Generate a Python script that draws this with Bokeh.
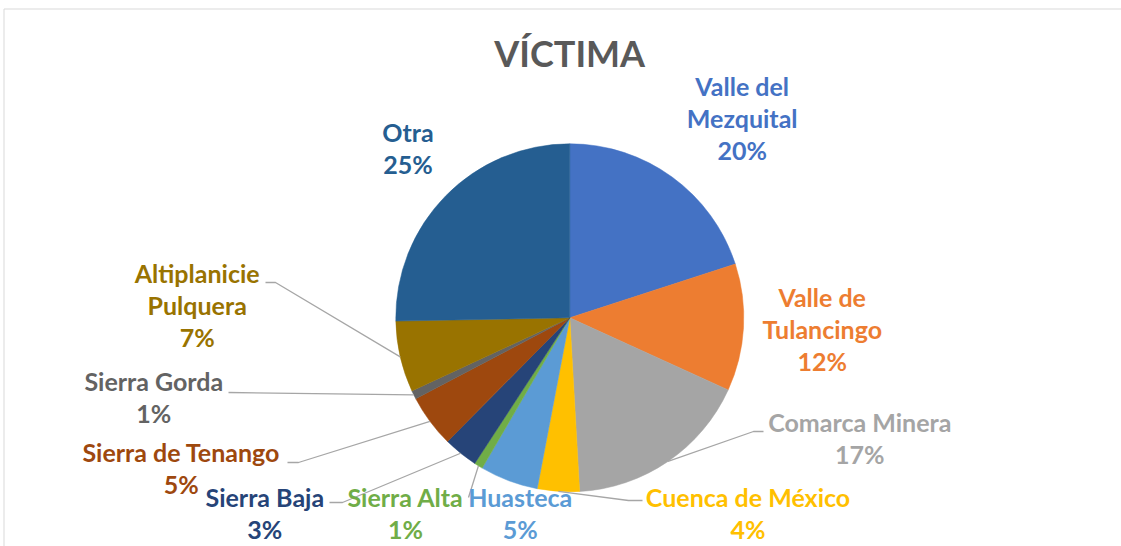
import math
from bokeh.plotting import figure
from bokeh.models import Range1d, ColumnDataSource
from bokeh.core.properties import value
from bokeh.embed import file_html
from bokeh.resources import INLINE

# ---------------- data ----------------
regions = ["Valle del Mezquital", "Valle de Tulancingo", "Comarca Minera",
           "Cuenca de México", "Huasteca", "Sierra Alta", "Sierra Baja",
           "Sierra de Tenango", "Sierra Gorda", "Altiplanicie Pulquera", "Otra"]
values = [20.0, 11.8, 17.3, 3.9, 5.4, 0.8, 3.2, 4.9, 0.8, 6.6, 25.3]
colors = ["#4472C4", "#ED7D31", "#A5A5A5", "#FFC000", "#5B9BD5", "#70AD47",
          "#264478", "#9E480E", "#636363", "#997300", "#255E91"]
title_text = "VÍCTIMA"

# ---------------- layout (screen pixels) ----------------
W, H = 1121, 546
CX, CY, R = 569.3, 317.3, 174.0
FONT = "Lato"
LINE_PITCH = 32
LABEL_SIZE = 25
TITLE_SIZE = 36
BASE_FIX = 0.40   # renderer places alphabetic baseline ~0.4em low

label_lines = {
    "Valle del Mezquital": ["Valle del", "Mezquital"],
    "Valle de Tulancingo": ["Valle de", "Tulancingo"],
    "Altiplanicie Pulquera": ["Altiplanicie", "Pulquera"],
}
label_pos = {
    "Valle del Mezquital": (741.7, 95.0),
    "Valle de Tulancingo": (821.7, 306.5),
    "Comarca Minera": (859.3, 431.7),
    "Cuenca de México": (747.5, 506.7),
    "Huasteca": (519.7, 506.7),
    "Sierra Alta": (405.0, 506.7),
    "Sierra Baja": (264.3, 506.7),
    "Sierra de Tenango": (180.8, 461.7),
    "Sierra Gorda": (153.3, 390.7),
    "Altiplanicie Pulquera": (196.7, 282.3),
    "Otra": (407.5, 141.7),
}
leader_start = {
    "Comarca Minera": [(763, 431), (753, 431)],
    "Cuenca de México": [(642, 500), (628, 500)],
    "Sierra Alta": [(468, 497)],
    "Sierra Baja": [(329, 502), (342, 502)],
    "Sierra de Tenango": [(287, 462), (298, 462)],
    "Sierra Gorda": [(228, 392)],
    "Altiplanicie Pulquera": [(265, 282), (275, 282)],
}

p = figure(width=W, height=H, output_backend="svg", toolbar_location=None,
           x_range=Range1d(0, W), y_range=Range1d(-H, 0), min_border=0)
p.xaxis.visible = False
p.yaxis.visible = False
p.grid.visible = False
p.outline_line_color = None
p.background_fill_color = "white"
p.border_fill_color = "white"

# chart border (top and left edges visible in reference)
p.segment(x0=[3.5, 3.5], y0=[-8.5, -8.5], x1=[W, 3.5], y1=[-8.5, -H],
          line_color="#D9D9D9", line_width=1)

# wedges: start at top, clockwise
total = sum(values)
starts, ends, mids = [], [], []
a = math.pi / 2
for v in values:
    a1 = a - v / total * 2 * math.pi
    starts.append(a1)
    ends.append(a)
    mids.append((a + a1) / 2)
    a = a1

src = ColumnDataSource(dict(start=starts, end=ends, color=colors, name=regions))
p.wedge(x=CX, y=-CY, radius=R, start_angle="start", end_angle="end",
        fill_color="color", line_color="color", line_width=0.5, source=src)

# leader lines
for name, m in zip(regions, mids):
    if name not in leader_start:
        continue
    pts = list(leader_start[name])
    ex = CX + R * math.cos(m)
    ey = CY - R * math.sin(m)
    pts.append((ex, ey))
    p.line([q[0] for q in pts], [-q[1] for q in pts],
           line_color="#A6A6A6", line_width=1.3)

# labels
tx, ty, tt, tc = [], [], [], []
for name, v, c in zip(regions, values, colors):
    lines = label_lines.get(name, [name]) + [f"{round(v / total * 100)}%"]
    x, y = label_pos[name]
    for i, ln in enumerate(lines):
        tx.append(x)
        ty.append(-(y + i * LINE_PITCH - BASE_FIX * LABEL_SIZE))
        tt.append(ln)
        tc.append(c)
p.text(x=tx, y=ty, text=tt, text_color=tc, text_align="center",
       text_baseline="alphabetic", text_font=value(FONT),
       text_font_style="bold", text_font_size=f"{LABEL_SIZE}px")

# title
p.text(x=[569.2], y=[-(66.7 - BASE_FIX * TITLE_SIZE)], text=[title_text],
       text_color="#595959", text_align="center", text_baseline="alphabetic",
       text_font=value(FONT), text_font_style="bold",
       text_font_size=f"{TITLE_SIZE}px")

open("out.html", "w").write(file_html(p, INLINE))
